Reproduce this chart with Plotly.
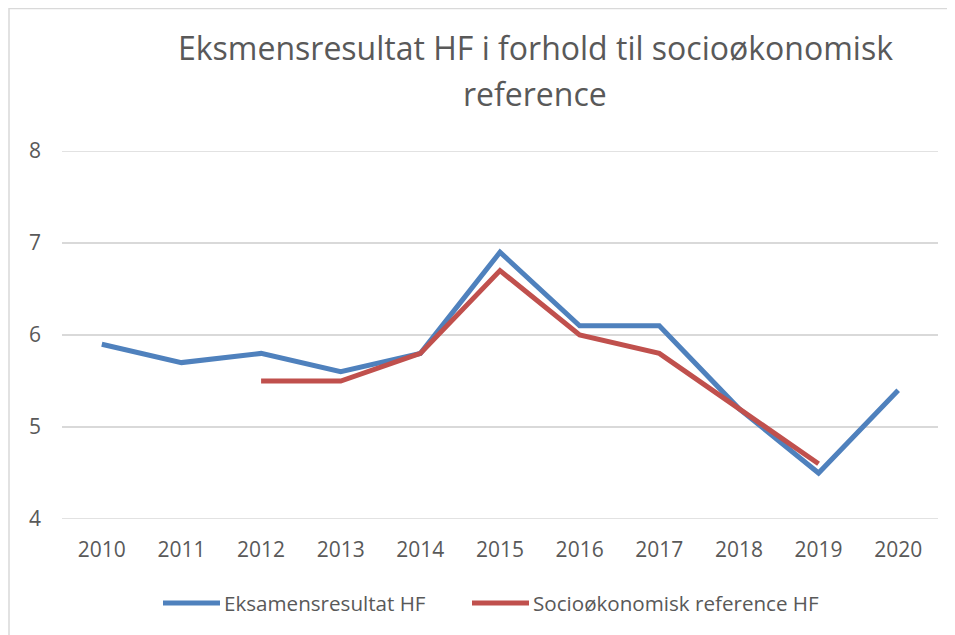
import plotly.graph_objects as go

years = ["2010", "2011", "2012", "2013", "2014", "2015", "2016", "2017", "2018", "2019", "2020"]
eksamen = [5.9, 5.7, 5.8, 5.6, 5.8, 6.9, 6.1, 6.1, 5.2, 4.5, 5.4]
reference = [None, None, 5.5, 5.5, 5.8, 6.7, 6.0, 5.8, 5.2, 4.6, None]
y_ticks = [4, 5, 6, 7, 8]
series_names = ["Eksamensresultat HF", "Socioøkonomisk reference HF"]
series_colors = ["#4f81bd", "#c0504d"]

FONT = "Open Sans"
TXT = "#595959"

fig = go.Figure()
fig.add_trace(go.Scatter(x=years, y=eksamen, mode="lines", name=series_names[0],
                         line=dict(color=series_colors[0], width=5)))
fig.add_trace(go.Scatter(x=years, y=reference, mode="lines", name=series_names[1],
                         line=dict(color=series_colors[1], width=5), connectgaps=False))

# page has an 8px body margin; work in figure coordinates
W, H = 947, 627
L, R, T, B = 54, 17, 143, 116
pw, ph = W - L - R, H - T - B


def px(x):
    return (x - L) / pw


def py(y):
    return (H - B - y) / ph


shapes = [dict(type="rect", xref="paper", yref="paper",
               x0=px(1), x1=px(W + 5), y0=py(H + 5), y1=py(0.5),
               line=dict(color="#d9d9d9", width=1.5), fillcolor="rgba(0,0,0,0)", layer="below")]
# edge gridlines (plotly drops gridlines at the exact range ends)
for v in (y_ticks[0], y_ticks[-1]):
    shapes.append(dict(type="line", xref="paper", yref="y", x0=0, x1=1, y0=v, y1=v,
                       line=dict(color="#d9d9d9", width=1.5), layer="below"))

annotations = [
    dict(text="Eksmensresultat HF i forhold til socioøkonomisk", xref="paper", yref="paper",
         x=px(527), y=py(39), xanchor="center", yanchor="middle",
         showarrow=False, font=dict(size=32, family=FONT, color=TXT)),
    dict(text="reference", xref="paper", yref="paper",
         x=px(527), y=py(85), xanchor="center", yanchor="middle",
         showarrow=False, font=dict(size=32, family=FONT, color=TXT)),
]

# custom legend
leg_y = 595
leg_items = [(155, 212, 214), (464, 521, 523)]
for (x0, x1, tx), name, col in zip(leg_items, series_names, series_colors):
    shapes.append(dict(type="line", xref="paper", yref="paper", x0=px(x0), x1=px(x1),
                       y0=py(leg_y), y1=py(leg_y), line=dict(color=col, width=5)))
    annotations.append(dict(text=name, xref="paper", yref="paper", x=px(tx), y=py(leg_y),
                            xanchor="left", yanchor="middle", showarrow=False,
                            font=dict(size=20.6, family=FONT, color=TXT)))

fig.update_layout(
    width=W, height=H,
    margin=dict(l=L, r=R, t=T, b=B),
    paper_bgcolor="white", plot_bgcolor="white",
    font=dict(family=FONT, color=TXT, size=21),
    xaxis=dict(type="category", range=[-0.5, 10.5], showgrid=False, zeroline=False, showline=False,
               ticks="", tickfont=dict(size=21, color=TXT), ticklabelstandoff=16),
    yaxis=dict(range=[4, 8], tickvals=y_ticks, showgrid=True, gridcolor="#d9d9d9",
               gridwidth=1.5, zeroline=False, showline=False, ticks="",
               tickfont=dict(size=21, color=TXT), ticklabelstandoff=20),
    showlegend=False,
    annotations=annotations,
    shapes=shapes,
)

fig.write_html("out.html")
